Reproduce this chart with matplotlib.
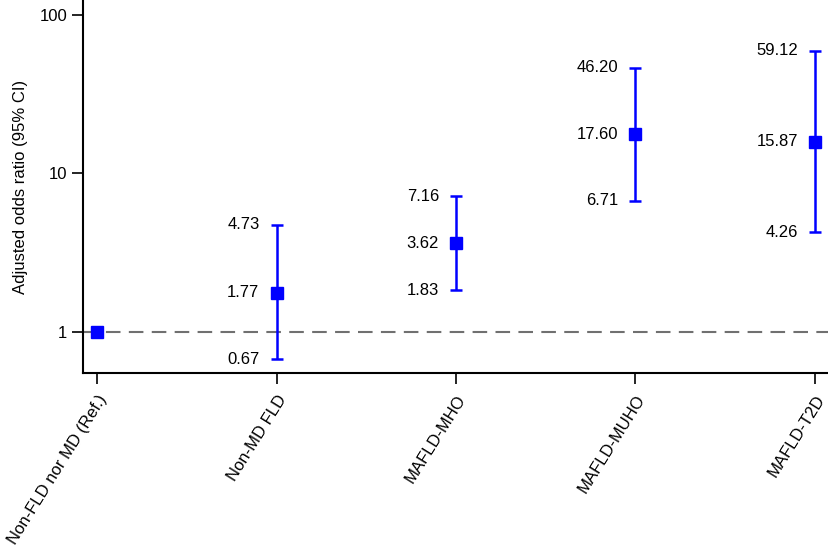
import numpy as np
import matplotlib.pyplot as plt

plt.rcParams['font.family'] = ['Liberation Sans', 'DejaVu Sans']

groups = ['Non-FLD nor MD (Ref.)', 'Non-MD FLD', 'MAFLD-MHO', 'MAFLD-MUHO', 'MAFLD-T2D']
odds = [1.00, 1.77, 3.62, 17.60, 15.87]
lower = [1.00, 0.67, 1.83, 6.71, 4.26]
upper = [1.00, 4.73, 7.16, 46.20, 59.12]

blue = '#0000ff'
x = np.arange(len(groups))

fig = plt.figure(figsize=(8.29, 5.46), dpi=100)
ax = fig.add_axes([83 / 829, 1 - 373 / 546, 1 - 83 / 829, 373 / 546])

ax.set_yscale('log')
ax.set_ylim(0.55, 124)
ax.set_xlim(-0.078, 4.078)

ax.axhline(1, color='#707070', lw=1.5, ls=(0, (7, 4)), zorder=1)

for i in range(1, len(groups)):
    ax.errorbar(x[i], odds[i], yerr=[[odds[i] - lower[i]], [upper[i] - odds[i]]],
                fmt='none', ecolor=blue, elinewidth=1.8, capsize=4.5, capthick=1.8, zorder=2)
ax.plot(x, odds, 's', color=blue, ms=8, zorder=3, ls='none')

for i in range(1, len(groups)):
    for v in (lower[i], odds[i], upper[i]):
        ax.text(x[i] - 0.095, v, f'{v:.2f}', ha='right', va='center', fontsize=12)

ax.set_yticks([1, 10, 100])
ax.set_yticklabels(['1', '10', '100'])
ax.minorticks_off()
ax.set_xticks(x)
ax.set_xticklabels(groups, rotation=58, ha='right', va='top', rotation_mode='anchor')
ax.tick_params(axis='both', labelsize=12, length=8, width=1.2, colors='black')
ax.tick_params(axis='x', pad=6)
ax.set_ylabel('Adjusted odds ratio (95% CI)', fontsize=12, labelpad=8)

for s in ['top', 'right']:
    ax.spines[s].set_visible(False)
for s in ['left', 'bottom']:
    ax.spines[s].set_linewidth(1.5)

fig.savefig('out.png', dpi=100)
